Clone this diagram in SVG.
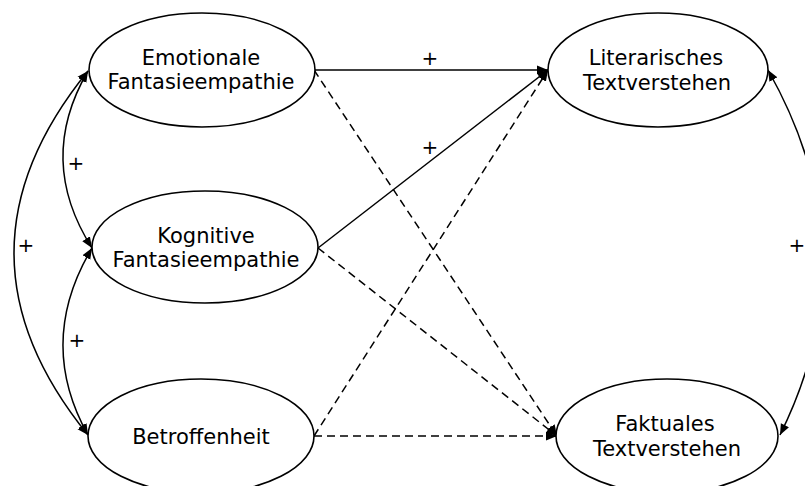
<svg xmlns="http://www.w3.org/2000/svg" width="805" height="486" viewBox="0 0 805 486">
  <style>
    .node ellipse { fill: #fff; stroke: #000; stroke-width: 1.6; }
    .node text, .lbl { font-family: "DejaVu Sans", Verdana, sans-serif; font-size: 21px; fill: #000; text-anchor: middle; }
    .lbl { font-size: 20px; }
    .edge { fill: none; stroke: #000; stroke-width: 1.5; }
    .dash { stroke-dasharray: 8 5; }
  </style>
  <defs>
    <marker id="arrow" markerUnits="userSpaceOnUse" markerWidth="12" markerHeight="10" refX="11" refY="5" orient="auto-start-reverse">
      <path d="M0,0.5 L11,5 L0,9.5 Z" fill="#000"/>
    </marker>
  </defs>

  <!-- connectors -->
  <g id="connectors">
    <!-- predictors to outcomes -->
    <line class="edge" x1="314" y1="70" x2="548" y2="70" marker-end="url(#arrow)"/>
    <line class="edge dash" x1="314" y1="70" x2="557" y2="436" marker-end="url(#arrow)"/>
    <line class="edge" x1="318" y1="248" x2="548" y2="70" marker-end="url(#arrow)"/>
    <line class="edge dash" x1="318" y1="248" x2="557" y2="436" marker-end="url(#arrow)"/>
    <line class="edge dash" x1="314" y1="436" x2="548" y2="70" marker-end="url(#arrow)"/>
    <line class="edge dash" x1="314" y1="436" x2="557" y2="436" marker-end="url(#arrow)"/>

    <!-- correlations among predictors -->
    <path class="edge" d="M88,71 Q-60,253 88,435" marker-start="url(#arrow)" marker-end="url(#arrow)"/>
    <path class="edge" d="M88,71 Q36,160 92,248" marker-start="url(#arrow)" marker-end="url(#arrow)"/>
    <path class="edge" d="M92,248 Q36,342 88,435" marker-start="url(#arrow)" marker-end="url(#arrow)"/>

    <!-- correlation between outcomes -->
    <path class="edge" d="M768,70 Q871,252 780,435" marker-start="url(#arrow)" marker-end="url(#arrow)"/>

    <!-- sign labels -->
    <text class="lbl" x="430" y="65">+</text>
    <text class="lbl" x="430" y="154">+</text>
    <text class="lbl" x="26" y="252">+</text>
    <text class="lbl" x="76" y="170">+</text>
    <text class="lbl" x="77" y="347">+</text>
    <text class="lbl" x="797" y="252">+</text>
  </g>

  <!-- nodes -->
  <g id="emotionale" class="node">
    <ellipse cx="202" cy="70" rx="113" ry="57"/>
    <text x="201" y="65">Emotionale</text>
    <text x="201" y="89">Fantasieempathie</text>
  </g>
  <g id="kognitive" class="node">
    <ellipse cx="205" cy="247" rx="113" ry="56"/>
    <text x="206" y="243">Kognitive</text>
    <text x="206" y="267">Fantasieempathie</text>
  </g>
  <g id="betroffenheit" class="node">
    <ellipse cx="201" cy="436" rx="113" ry="57"/>
    <text x="201" y="444">Betroffenheit</text>
  </g>
  <g id="literarisch" class="node">
    <ellipse cx="658" cy="70" rx="110" ry="57"/>
    <text x="656" y="65">Literarisches</text>
    <text x="657" y="90">Textverstehen</text>
  </g>
  <g id="faktual" class="node">
    <ellipse cx="667" cy="436" rx="111" ry="57"/>
    <text x="665" y="431">Faktuales</text>
    <text x="667" y="456">Textverstehen</text>
  </g>
</svg>
